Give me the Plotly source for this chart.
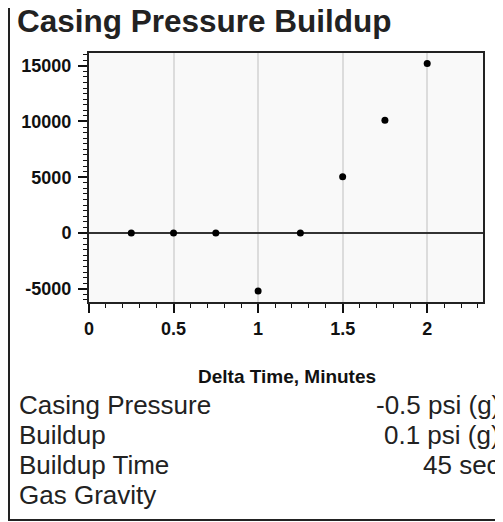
import plotly.graph_objects as go

# Data
delta_time = [0.25, 0.5, 0.75, 1.0, 1.25, 1.5, 1.75, 2.0]
pressure = [0, 0, 0, -5200, 0, 5050, 10100, 15200]
x_ticks = [0, 0.5, 1, 1.5, 2]
x_tick_labels = ["0", "0.5", "1", "1.5", "2"]
y_ticks = [-5000, 0, 5000, 10000, 15000]
y_tick_labels = ["-5000", "0", "5000", "10000", "15000"]
info_labels = ["Casing Pressure", "Buildup", "Buildup Time", "Gas Gravity"]
info_values = ["-0.5 psi (g)", "0.1 psi (g)", "45 sec", ""]

# The page body has an 8px margin; the figure starts at (8, 8)
OFF = 8
W, H = 495, 514
L, R, T, B = 81, 20, 45, 220
PW, PH = W - L - R, H - T - B

def px(x):
    return (x - OFF - L) / PW

def py(y):
    return (H - B - (y - OFF)) / PH

fig = go.Figure()
fig.add_trace(go.Scatter(
    x=delta_time, y=pressure, mode="markers",
    marker=dict(color="black", size=7),
    hoverinfo="x+y", showlegend=False,
))

tick_font = dict(family="Liberation Sans, Arial, sans-serif", size=18, color="#111")

fig.update_layout(
    width=W, height=H,
    margin=dict(l=L, r=R, t=T, b=B),
    paper_bgcolor="white",
    plot_bgcolor="#f9f9f9",
    showlegend=False,
    title=dict(
        text="<b>Casing Pressure Buildup</b>",
        font=dict(family="Liberation Sans, Arial, sans-serif", size=31.5, color="#222"),
        x=(17 - OFF) / W, xref="container", xanchor="left",
        y=1 - (21 - OFF) / H, yref="container", yanchor="middle",
    ),
    xaxis=dict(
        range=[0, 2.33], tickvals=x_ticks, ticktext=[f"<b>{t}</b>" for t in x_tick_labels],
        showgrid=True, gridcolor="#dcdcdc", gridwidth=1.5,
        zeroline=False,
        showline=True, linecolor="#222", linewidth=2, mirror=True,
        ticks="outside", ticklen=9, tickwidth=2, tickcolor="#111",
        minor=dict(dtick=0.1, ticks="outside", ticklen=4, tickwidth=1, tickcolor="#111", showgrid=False),
        tickfont=tick_font,
        fixedrange=True,
    ),
    yaxis=dict(
        range=[-6190, 16140], tickvals=y_ticks, ticktext=[f"<b>{t}</b>" for t in y_tick_labels],
        showgrid=False,
        zeroline=True, zerolinecolor="#333", zerolinewidth=1.5,
        showline=True, linecolor="#222", linewidth=2, mirror=True,
        ticks="outside", ticklen=9, tickwidth=1.5, tickcolor="#111",
        minor=dict(dtick=500, ticks="outside", ticklen=4, tickwidth=1, tickcolor="#111", showgrid=False),
        tickfont=tick_font,
        ticklabelstandoff=3,
        fixedrange=True,
    ),
)

# Axis title
fig.add_annotation(
    text="<b>Delta Time, Minutes</b>", x=px(287), y=py(376),
    xref="paper", yref="paper", xanchor="center", yanchor="middle",
    showarrow=False,
    font=dict(family="Liberation Sans, Arial, sans-serif", size=19, color="#111"),
)

# Info table
row_y = [405, 435, 465, 495]
for lab, val, yy in zip(info_labels, info_values, row_y):
    fig.add_annotation(
        text=lab, x=px(17), y=py(yy), xref="paper", yref="paper",
        xanchor="left", yanchor="middle", showarrow=False,
        font=dict(family="Liberation Sans, Arial, sans-serif", size=26, color="#222"),
    )
    if val:
        fig.add_annotation(
            text=val, x=px(502), y=py(yy), xref="paper", yref="paper",
            xanchor="right", yanchor="middle", showarrow=False,
            font=dict(family="Liberation Sans, Arial, sans-serif", size=26, color="#222"),
        )

# Outer border
fig.add_shape(
    type="rect", xref="paper", yref="paper",
    x0=px(9), x1=px(507), y0=py(520), y1=py(-6),
    line=dict(color="#222", width=2), fillcolor="rgba(0,0,0,0)", layer="above",
)

fig.write_html("out.html", config={"displayModeBar": False})
